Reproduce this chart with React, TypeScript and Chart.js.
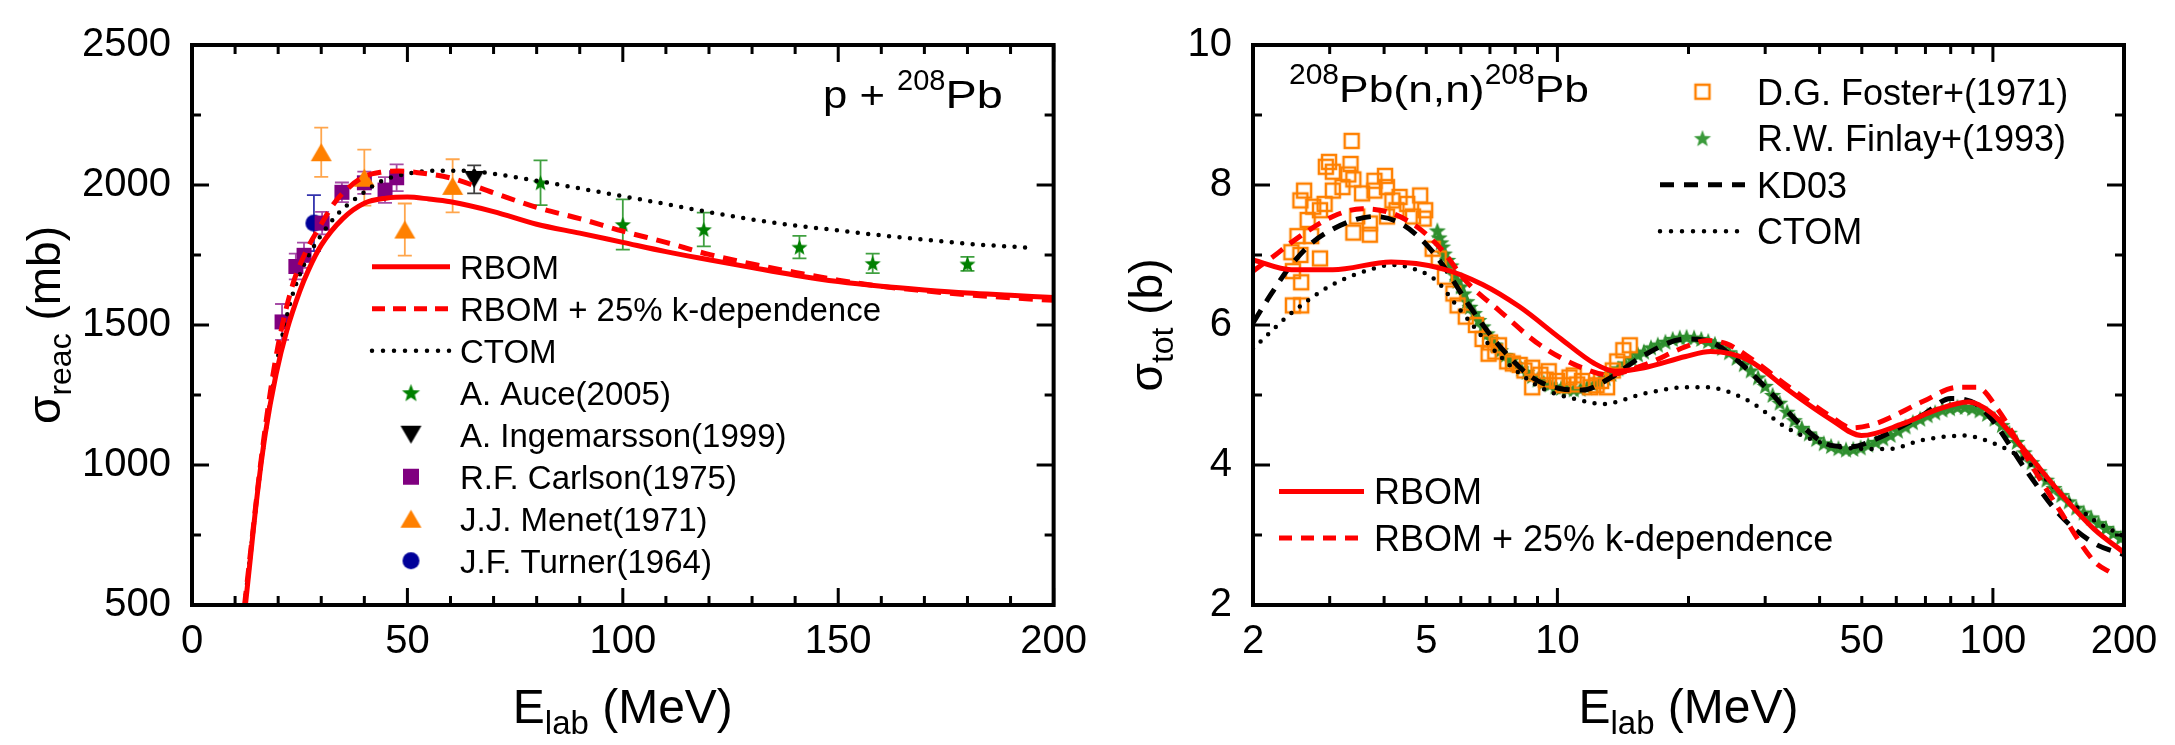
import React, { useEffect, useRef } from 'react';
import { Chart, registerables } from 'chart.js';

Chart.register(...registerables);

const FONT = "'Liberation Sans', Arial, Helvetica, sans-serif";
const H = 745;

// ---------------- Left panel: p + 208Pb, reaction cross section ----------------
const leftXTicks = [0, 50, 100, 150, 200];
const leftYTicks = [500, 1000, 1500, 2000, 2500];

const lRbomE = [12.4, 13.5, 15, 17, 19.5, 22, 25, 27, 30, 35, 40, 45, 50, 55, 60, 70, 80, 90, 100, 110, 120, 130, 140, 150, 160, 170, 180, 190, 200];
const lRbomS = [500, 660, 875, 1110, 1323, 1480, 1620, 1695, 1785, 1880, 1935, 1953, 1957, 1950, 1940, 1905, 1860, 1828, 1795, 1762, 1733, 1705, 1678, 1655, 1638, 1625, 1614, 1606, 1598];

const lKdepE = [12.2, 14, 15.5, 17.6, 19.9, 23.3, 26.4, 30, 33, 36.4, 40, 44, 48, 52, 60, 70, 80, 90, 100, 110, 120, 130, 140, 150, 160, 170, 180, 190, 200];
const lKdepS = [500, 745, 950, 1200, 1420, 1640, 1761, 1860, 1935, 1991, 2030, 2046, 2050, 2045, 2025, 1972, 1920, 1880, 1835, 1795, 1752, 1718, 1688, 1660, 1638, 1622, 1608, 1597, 1588];

const lCtomE = [12.2, 14, 16, 18, 20, 23, 26, 29.5, 34, 39.4, 44, 50, 56, 63, 70, 80, 90, 100, 110, 120, 130, 140, 150, 160, 170, 180, 190, 195];
const lCtomS = [500, 740, 1000, 1210, 1390, 1590, 1715, 1810, 1899, 1968, 2014, 2040, 2051, 2051, 2040, 2015, 1988, 1960, 1932, 1903, 1877, 1855, 1838, 1820, 1805, 1790, 1780, 1775];

const auceE = [80.9, 100, 118.8, 141, 158, 180];
const auceS = [2008, 1859, 1841, 1778, 1720, 1718];
const auceErr = [80, 90, 60, 40, 35, 25];

const ingeE = [65.5];
const ingeS = [2020];
const ingeErr = [50];

const carlE = [20.9, 24.1, 26, 30.2, 34.8, 40, 44.8, 47.5];
const carlS = [1511, 1709, 1749, 1864, 1974, 2008, 1982, 2026];
const carlErr = [64, 46, 45, 40, 35, 40, 46, 48];

const menetE = [30, 40, 49.4, 60.5];
const menetS = [2117, 2026, 1841, 1997];
const menetErr = [88, 100, 93, 95];

const turnE = [28.3];
const turnS = [1864];
const turnErr = [100];

// ---------------- Right panel: 208Pb(n,n), total cross section ----------------
const rightXTicks = [2, 5, 10, 50, 100, 200];
const rightYTicks = [2, 4, 6, 8, 10];

const rRbomE = [2.0, 2.45, 3.05, 4.15, 5.4, 6.73, 8.19, 10.2, 12.16, 13.57, 15.82, 19.7, 22.5, 27.4, 34.1, 42.5, 49.9, 62.1, 75, 88, 99.4, 119, 142.8, 171, 200];
const rRbomS = [6.93, 6.79, 6.79, 6.9, 6.81, 6.58, 6.26, 5.8, 5.45, 5.34, 5.39, 5.55, 5.62, 5.5, 5.06, 4.65, 4.42, 4.59, 4.8, 4.9, 4.74, 4.19, 3.6, 3.08, 2.75];

const rKdepE = [2.0, 2.25, 2.45, 3.05, 3.56, 4.15, 4.74, 5.4, 6.16, 7.34, 9.14, 11.39, 13.0, 15.82, 19.7, 22.0, 24.5, 27.4, 34.1, 42.5, 47.4, 53.7, 69.2, 82.9, 92, 103, 119, 142.8, 171, 187, 192];
const rKdepS = [6.77, 7.0, 7.18, 7.55, 7.66, 7.6, 7.41, 7.09, 6.63, 6.21, 5.71, 5.39, 5.29, 5.43, 5.69, 5.78, 5.73, 5.55, 5.11, 4.69, 4.53, 4.59, 4.91, 5.11, 5.11, 4.78, 4.13, 3.34, 2.62, 2.46, 2.42];

const kd03E = [2.0, 2.2, 2.45, 2.74, 3.05, 3.41, 3.8, 4.34, 4.95, 5.52, 6.3, 7.34, 8.75, 10.2, 11.39, 13.27, 15.82, 19.7, 22.0, 25.6, 30.6, 36.4, 42.5, 47.4, 52.9, 69.2, 80, 89, 99.4, 119, 142.8, 171, 200];
const kd03S = [6.03, 6.44, 6.86, 7.18, 7.37, 7.5, 7.55, 7.46, 7.18, 6.81, 6.26, 5.71, 5.25, 5.09, 5.07, 5.25, 5.57, 5.8, 5.78, 5.52, 5.06, 4.56, 4.28, 4.26, 4.35, 4.72, 4.95, 4.91, 4.65, 3.93, 3.28, 2.88, 2.72];

const rCtomE = [2.0, 2.45, 3.05, 3.8, 4.15, 4.74, 5.28, 5.9, 7.34, 9.14, 11.39, 12.7, 15.82, 19.7, 22.0, 27.4, 34.1, 42.5, 52.9, 57.7, 69.2, 86, 99.4, 119, 142.8, 171, 200];
const rCtomS = [5.66, 6.17, 6.58, 6.81, 6.86, 6.79, 6.63, 6.26, 5.57, 5.11, 4.92, 4.87, 5.02, 5.11, 5.11, 4.92, 4.51, 4.28, 4.23, 4.23, 4.36, 4.42, 4.32, 4.06, 3.6, 3.21, 2.98];

const fosterE = [3.37, 2.99, 3.05, 3.35, 2.94, 3.31, 3.4, 3.8, 4.02, 2.62, 2.57, 2.75, 2.92, 3.05, 3.21, 3.56, 3.8, 4.06, 4.18, 4.34, 4.52, 4.84, 4.66, 4.97, 4.93, 3.47, 3.71, 4.06, 4.27, 3.4, 3.71, 2.67, 2.85, 2.72, 2.53, 2.45, 2.85, 2.57, 2.47, 2.58, 2.47, 2.58, 5.17, 5.34, 5.52, 5.77, 5.9, 6.16, 6.5, 6.73, 6.95, 7.0, 7.2, 7.34, 7.67, 7.9, 8.19, 8.4, 8.75, 9.14, 8.75, 9.4, 9.55, 9.98, 10.3, 10.66, 10.9, 11.1, 11.39, 11.9, 12.3, 12.6, 13.0, 13.4, 13.72, 14.17, 14.66];
const fosterS = [8.63, 8.33, 8.19, 8.3, 8.26, 8.15, 8.08, 8.06, 8.13, 7.92, 7.78, 7.69, 7.73, 7.92, 7.97, 7.88, 7.92, 7.97, 7.78, 7.83, 7.73, 7.85, 7.55, 7.64, 7.52, 7.55, 7.45, 7.55, 7.64, 7.32, 7.29, 7.5, 7.64, 7.27, 7.27, 7.04, 6.95, 7.0, 6.77, 6.61, 6.28, 6.28, 7.09, 6.95, 6.69, 6.45, 6.28, 6.12, 6.0, 5.8, 5.59, 5.75, 5.62, 5.71, 5.48, 5.45, 5.43, 5.35, 5.39, 5.29, 5.11, 5.22, 5.34, 5.2, 5.14, 5.25, 5.28, 5.15, 5.2, 5.11, 5.14, 5.2, 5.11, 5.35, 5.48, 5.64, 5.71];

const finlayE = [5.3, 5.35, 5.4, 5.45, 5.5, 5.6, 5.7, 5.8, 5.9, 6.0, 6.1, 6.2, 6.3, 6.45, 6.6, 6.75, 6.9, 7.05, 7.2, 7.4, 7.6, 7.8, 8.0, 8.25, 8.5, 8.75, 9.0, 9.3, 9.6, 9.9, 10.2, 10.5, 10.9, 11.3, 11.7, 12.1, 12.5, 12.9, 13.3, 13.8, 14.3, 14.8, 15.3, 15.8, 16.4, 17.0, 17.7, 18.4, 19.1, 19.8, 20.6, 21.4, 22.2, 23.0, 23.9, 24.8, 25.8, 26.8, 27.8, 28.9, 30.0, 31.2, 32.4, 33.7, 35.0, 36.4, 37.8, 39.3, 40.9, 42.5, 44.2, 46.0, 47.8, 49.7, 51.7, 53.8, 56.0, 58.2, 60.5, 63.0, 65.5, 68.1, 70.8, 73.7, 76.6, 79.7, 82.9, 86.2, 89.6, 93.2, 97.0, 100.9, 104.9, 109.1, 113.5, 118.0, 122.8, 127.7, 132.8, 138.1, 143.6, 149.4, 155.4, 161.6, 168.1, 174.8, 181.8, 189.1, 196.7];
const finlayS = [7.35, 7.25, 7.18, 7.12, 7.02, 6.93, 6.85, 6.72, 6.63, 6.55, 6.45, 6.34, 6.26, 6.17, 6.07, 5.98, 5.88, 5.8, 5.72, 5.64, 5.57, 5.49, 5.44, 5.38, 5.33, 5.27, 5.22, 5.18, 5.15, 5.12, 5.1, 5.09, 5.08, 5.09, 5.11, 5.15, 5.19, 5.24, 5.3, 5.38, 5.45, 5.52, 5.58, 5.62, 5.68, 5.72, 5.76, 5.8, 5.82, 5.83, 5.82, 5.8, 5.77, 5.73, 5.67, 5.61, 5.53, 5.44, 5.35, 5.25, 5.13, 5.0, 4.89, 4.76, 4.64, 4.53, 4.45, 4.37, 4.31, 4.27, 4.24, 4.22, 4.23, 4.25, 4.29, 4.33, 4.38, 4.43, 4.49, 4.55, 4.61, 4.66, 4.71, 4.75, 4.79, 4.81, 4.83, 4.83, 4.81, 4.78, 4.73, 4.66, 4.57, 4.46, 4.33, 4.18, 4.04, 3.91, 3.79, 3.67, 3.57, 3.48, 3.39, 3.32, 3.25, 3.17, 3.1, 3.03, 2.96];

// ---------------- helpers ----------------
const pts = (xs: number[], ys: number[]) => xs.map((x, i) => ({ x, y: ys[i] }));

function makeMarker(kind: string, w: number, h: number, fill: string | null, stroke?: string, lw = 0): HTMLCanvasElement {
  const pad = 3;
  const c = document.createElement('canvas');
  c.width = Math.ceil(w + pad * 2);
  c.height = Math.ceil(h + pad * 2);
  const ctx = c.getContext('2d')!;
  const cx = c.width / 2, cy = c.height / 2;
  ctx.beginPath();
  if (kind === 'star') {
    const r = w / 2;
    for (let i = 0; i < 10; i++) {
      const a = -Math.PI / 2 + (i * Math.PI) / 5;
      const rr = i % 2 === 0 ? r : r * 0.42;
      ctx.lineTo(cx + rr * Math.cos(a), cy + 0.08 * r + rr * Math.sin(a));
    }
    ctx.closePath();
  } else if (kind === 'tri') {
    ctx.moveTo(cx, cy - h / 2);
    ctx.lineTo(cx + w / 2, cy + h / 2);
    ctx.lineTo(cx - w / 2, cy + h / 2);
    ctx.closePath();
  } else if (kind === 'dtri') {
    ctx.moveTo(cx, cy + h / 2);
    ctx.lineTo(cx + w / 2, cy - h / 2);
    ctx.lineTo(cx - w / 2, cy - h / 2);
    ctx.closePath();
  } else if (kind === 'square') {
    ctx.rect(cx - w / 2, cy - h / 2, w, h);
  } else {
    ctx.ellipse(cx, cy, w / 2, h / 2, 0, 0, Math.PI * 2);
  }
  if (fill) { ctx.fillStyle = fill; ctx.fill(); }
  if (stroke) { ctx.strokeStyle = stroke; ctx.lineWidth = lw; ctx.stroke(); }
  return c;
}

type Part = { t: string; size: number; dy?: number; sx?: number };

function richWidth(ctx: CanvasRenderingContext2D, parts: Part[]) {
  let w = 0;
  for (const p of parts) {
    ctx.font = `${p.size}px ${FONT}`;
    w += ctx.measureText(p.t).width * (p.sx ?? 1);
  }
  return w;
}

function drawRich(ctx: CanvasRenderingContext2D, parts: Part[], x: number, y: number) {
  let cx = x;
  ctx.textBaseline = 'alphabetic';
  ctx.textAlign = 'left';
  for (const p of parts) {
    ctx.font = `${p.size}px ${FONT}`;
    const sx = p.sx ?? 1;
    ctx.save();
    ctx.translate(cx, y + (p.dy ?? 0));
    ctx.scale(sx, 1);
    ctx.fillText(p.t, 0, 0);
    ctx.restore();
    cx += ctx.measureText(p.t).width * sx;
  }
}

type LegItem =
  | { kind: 'line'; color: string; width: number; dash: number[]; cap?: CanvasLineCap; label: string }
  | { kind: 'marker'; img: HTMLCanvasElement; label: string };

function drawLegend(ctx: CanvasRenderingContext2D, items: LegItem[], x0: number, x1: number, tx: number, y0: number, dy: number, size: number) {
  items.forEach((it, i) => {
    const y = y0 + i * dy;
    ctx.save();
    if (it.kind === 'line') {
      ctx.strokeStyle = it.color;
      ctx.lineWidth = it.width;
      ctx.lineCap = it.cap ?? 'butt';
      ctx.setLineDash(it.dash);
      ctx.beginPath();
      ctx.moveTo(x0, y);
      ctx.lineTo(x1, y);
      ctx.stroke();
    } else {
      const im = it.img;
      ctx.drawImage(im, (x0 + x1) / 2 - im.width / 2, y - im.height / 2);
    }
    ctx.restore();
    ctx.fillStyle = '#000';
    ctx.font = `${size}px ${FONT}`;
    ctx.textBaseline = 'alphabetic';
    ctx.textAlign = 'left';
    ctx.fillText(it.label, tx, y + 0.358 * size);
  });
}

const errorBarPlugin = {
  id: 'errbars',
  beforeDatasetsDraw(chart: any) {
    const { ctx } = chart;
    const xs = chart.scales.x, ys = chart.scales.y;
    chart.data.datasets.forEach((ds: any) => {
      if (!ds.errors) return;
      ctx.save();
      ctx.strokeStyle = ds.errColor;
      ctx.lineWidth = 1.8;
      ds.data.forEach((p: any, i: number) => {
        const e = ds.errors[i];
        const x = xs.getPixelForValue(p.x);
        const y1 = ys.getPixelForValue(p.y + e);
        const y2 = ys.getPixelForValue(p.y - e);
        ctx.beginPath();
        ctx.moveTo(x, y1); ctx.lineTo(x, y2);
        ctx.moveTo(x - 7, y1); ctx.lineTo(x + 7, y1);
        ctx.moveTo(x - 7, y2); ctx.lineTo(x + 7, y2);
        ctx.stroke();
      });
      ctx.restore();
    });
  },
};

function framePlugin(cfg: { xMajor: number[]; xMinor: number[]; yMajor: number[]; yMinor: number[]; extra: (ctx: CanvasRenderingContext2D, chart: any) => void }) {
  return {
    id: 'frame',
    afterDraw(chart: any) {
      const { ctx, chartArea: a } = chart;
      const xs = chart.scales.x, ys = chart.scales.y;
      ctx.save();
      ctx.strokeStyle = '#000';
      ctx.setLineDash([]);
      ctx.lineWidth = 3;
      const seg = (x1: number, y1: number, x2: number, y2: number) => {
        ctx.beginPath(); ctx.moveTo(x1, y1); ctx.lineTo(x2, y2); ctx.stroke();
      };
      const doX = (vals: number[], len: number) => vals.forEach((v) => {
        const p = xs.getPixelForValue(v);
        seg(p, a.bottom, p, a.bottom - len);
        seg(p, a.top, p, a.top + len);
      });
      const doY = (vals: number[], len: number) => vals.forEach((v) => {
        const p = ys.getPixelForValue(v);
        seg(a.left, p, a.left + len, p);
        seg(a.right, p, a.right - len, p);
      });
      doX(cfg.xMajor, 17); doX(cfg.xMinor, 9);
      doY(cfg.yMajor, 17); doY(cfg.yMinor, 9);
      ctx.lineWidth = 4;
      ctx.strokeRect(a.left, a.top, a.right - a.left, a.bottom - a.top);
      ctx.fillStyle = '#000';
      cfg.extra(ctx, chart);
      ctx.restore();
    },
  };
}

function axisTitles(ctx: CanvasRenderingContext2D, chart: any, yParts: Part[], yBase: number) {
  const a = chart.chartArea;
  const xParts: Part[] = [
    { t: 'E', size: 48 },
    { t: 'lab', size: 33, dy: 11 },
    { t: ' (MeV)', size: 48 },
  ];
  const w = richWidth(ctx, xParts);
  drawRich(ctx, xParts, (a.left + a.right) / 2 - w / 2, 723);
  const wy = richWidth(ctx, yParts);
  ctx.save();
  ctx.translate(yBase, (a.top + a.bottom) / 2);
  ctx.rotate(-Math.PI / 2);
  drawRich(ctx, yParts, -wy / 2, 0);
  ctx.restore();
}

const tickFont = { family: FONT, size: 40 };

function buildLeft(): any {
  const star = makeMarker('star', 17, 17, '#008000');
  const dtri = makeMarker('dtri', 20, 17, '#000000');
  const sq = makeMarker('square', 15, 15, '#800080');
  const tri = makeMarker('tri', 21, 18, '#ff8000');
  const circ = makeMarker('circle', 17, 17, '#000099');
  const lstar = makeMarker('star', 19, 19, '#008000');
  const ldtri = makeMarker('dtri', 21, 18, '#000000');
  const lsq = makeMarker('square', 16, 16, '#800080');
  const ltri = makeMarker('tri', 21, 18, '#ff8000');
  const lcirc = makeMarker('circle', 17, 17, '#000099');

  const minorX: number[] = [];
  for (let v = 10; v < 200; v += 10) if (v % 50 !== 0) minorX.push(v);
  const minorY = [750, 1250, 1750, 2250];

  return {
    type: 'scatter',
    data: {
      datasets: [
        { type: 'line', label: 'RBOM', data: pts(lRbomE, lRbomS), borderColor: '#ff0000', borderWidth: 5, pointRadius: 0, cubicInterpolationMode: 'monotone', order: 1 },
        { type: 'line', label: 'RBOM + 25% k-dependence', data: pts(lKdepE, lKdepS), borderColor: '#ff0000', borderWidth: 5, borderDash: [14, 9], pointRadius: 0, cubicInterpolationMode: 'monotone', order: 0 },
        { type: 'line', label: 'CTOM', data: pts(lCtomE, lCtomS), borderColor: '#000000', borderWidth: 4.5, borderDash: [0, 10.5], borderCapStyle: 'round', pointRadius: 0, cubicInterpolationMode: 'monotone', order: 2 },
        { label: 'A. Auce(2005)', data: pts(auceE, auceS), pointStyle: star, pointRadius: 6, errors: auceErr, errColor: 'rgba(0,128,0,0.75)', order: 10 },
        { label: 'A. Ingemarsson(1999)', data: pts(ingeE, ingeS), pointStyle: dtri, pointRadius: 6, errors: ingeErr, errColor: 'rgba(0,0,0,0.75)', order: 10 },
        { label: 'R.F. Carlson(1975)', data: pts(carlE, carlS), pointStyle: sq, pointRadius: 6, errors: carlErr, errColor: 'rgba(128,0,128,0.7)', order: 10 },
        { label: 'J.J. Menet(1971)', data: pts(menetE, menetS), pointStyle: tri, pointRadius: 6, errors: menetErr, errColor: 'rgba(255,128,0,0.7)', order: 9 },
        { label: 'J.F. Turner(1964)', data: pts(turnE, turnS), pointStyle: circ, pointRadius: 6, errors: turnErr, errColor: 'rgba(0,0,153,0.8)', order: 11 },
      ],
    },
    options: {
      responsive: false,
      animation: false,
      devicePixelRatio: 1,
      layout: { padding: { top: 26, right: 39, left: 0, bottom: 0 } },
      plugins: { legend: { display: false }, tooltip: { enabled: false } },
      scales: {
        x: {
          type: 'linear', min: 0, max: 200,
          afterFit: (s: any) => { s.height = H - 605; },
          afterBuildTicks: (s: any) => { s.ticks = leftXTicks.map((v) => ({ value: v })); },
          grid: { display: false, drawTicks: false }, border: { display: false },
          ticks: { font: tickFont, color: '#000', padding: 13, maxRotation: 0, autoSkip: false, callback: (v: any) => String(v) },
        },
        y: {
          type: 'linear', min: 500, max: 2500,
          afterFit: (s: any) => { s.width = 192; },
          afterBuildTicks: (s: any) => { s.ticks = leftYTicks.map((v) => ({ value: v })); },
          grid: { display: false, drawTicks: false }, border: { display: false },
          ticks: { font: tickFont, color: '#000', padding: 21, autoSkip: false, callback: (v: any) => String(v) },
        },
      },
    },
    plugins: [
      errorBarPlugin,
      framePlugin({
        xMajor: leftXTicks, xMinor: minorX, yMajor: leftYTicks, yMinor: minorY,
        extra: (ctx, chart) => {
          axisTitles(ctx, chart, [
            { t: 'σ', size: 46 },
            { t: 'reac', size: 32, dy: 11 },
            { t: ' (mb)', size: 46 },
          ], 60);
          drawRich(ctx, [
            { t: 'p + ', size: 39, sx: 1.12 },
            { t: '208', size: 29, dy: -18 },
            { t: 'Pb', size: 39, sx: 1.2 },
          ], 823, 108);
          drawLegend(ctx, [
            { kind: 'line', color: '#ff0000', width: 5, dash: [], label: 'RBOM' },
            { kind: 'line', color: '#ff0000', width: 5, dash: [13, 8], label: 'RBOM + 25% k-dependence' },
            { kind: 'line', color: '#000000', width: 4.5, dash: [0, 11], cap: 'round', label: 'CTOM' },
            { kind: 'marker', img: lstar, label: 'A. Auce(2005)' },
            { kind: 'marker', img: ldtri, label: 'A. Ingemarsson(1999)' },
            { kind: 'marker', img: lsq, label: 'R.F. Carlson(1975)' },
            { kind: 'marker', img: ltri, label: 'J.J. Menet(1971)' },
            { kind: 'marker', img: lcirc, label: 'J.F. Turner(1964)' },
          ], 372, 450, 460, 266.7, 42, 33);
        },
      }),
    ],
  };
}

function buildRight(): any {
  const fstar = makeMarker('star', 18, 18, '#2f8f2f');
  const osq = makeMarker('square', 14, 14, null, '#ff8000', 2.5);
  const lfstar = makeMarker('star', 18, 18, '#3a9a3a');
  const losq = makeMarker('square', 14, 14, null, '#ff8000', 2.5);

  const minorX = [3, 4, 6, 7, 8, 9, 20, 30, 40, 60, 70, 80, 90];
  const minorY = [3, 5, 7, 9];

  return {
    type: 'scatter',
    data: {
      datasets: [
        { type: 'line', label: 'RBOM', data: pts(rRbomE, rRbomS), borderColor: '#ff0000', borderWidth: 5, pointRadius: 0, cubicInterpolationMode: 'monotone', order: 2 },
        { type: 'line', label: 'RBOM + 25% k-dependence', data: pts(rKdepE, rKdepS), borderColor: '#ff0000', borderWidth: 5, borderDash: [14, 9], pointRadius: 0, cubicInterpolationMode: 'monotone', order: 1 },
        { type: 'line', label: 'KD03', data: pts(kd03E, kd03S), borderColor: '#000000', borderWidth: 5, borderDash: [15, 10], pointRadius: 0, cubicInterpolationMode: 'monotone', order: 3 },
        { type: 'line', label: 'CTOM', data: pts(rCtomE, rCtomS), borderColor: '#000000', borderWidth: 4.5, borderDash: [0, 10.5], borderCapStyle: 'round', pointRadius: 0, cubicInterpolationMode: 'monotone', order: 4 },
        { label: 'D.G. Foster+(1971)', data: pts(fosterE, fosterS), pointStyle: osq, pointRadius: 6, order: 9 },
        { label: 'R.W. Finlay+(1993)', data: pts(finlayE, finlayS), pointStyle: fstar, pointRadius: 6, order: 10 },
      ],
    },
    options: {
      responsive: false,
      animation: false,
      devicePixelRatio: 1,
      layout: { padding: { top: 26, right: 51, left: 0, bottom: 0 } },
      plugins: { legend: { display: false }, tooltip: { enabled: false } },
      scales: {
        x: {
          type: 'logarithmic', min: 2, max: 200,
          afterFit: (s: any) => { s.height = H - 605; },
          afterBuildTicks: (s: any) => { s.ticks = rightXTicks.map((v) => ({ value: v })); },
          grid: { display: false, drawTicks: false }, border: { display: false },
          ticks: { font: tickFont, color: '#000', padding: 13, maxRotation: 0, autoSkip: false, callback: (v: any) => String(v) },
        },
        y: {
          type: 'linear', min: 2, max: 10,
          afterFit: (s: any) => { s.width = 153; },
          afterBuildTicks: (s: any) => { s.ticks = rightYTicks.map((v) => ({ value: v })); },
          grid: { display: false, drawTicks: false }, border: { display: false },
          ticks: { font: tickFont, color: '#000', padding: 21, autoSkip: false, callback: (v: any) => String(v) },
        },
      },
    },
    plugins: [
      framePlugin({
        xMajor: [10, 100], xMinor: minorX.concat([5, 50]), yMajor: rightYTicks, yMinor: minorY,
        extra: (ctx, chart) => {
          axisTitles(ctx, chart, [
            { t: 'σ', size: 46 },
            { t: 'tot', size: 32, dy: 11 },
            { t: ' (b)', size: 46 },
          ], 62);
          drawRich(ctx, [
            { t: '208', size: 30, dy: -18 },
            { t: 'Pb(n,n)', size: 37, sx: 1.2 },
            { t: '208', size: 30, dy: -18 },
            { t: 'Pb', size: 37, sx: 1.2 },
          ], 189, 102);
          drawLegend(ctx, [
            { kind: 'marker', img: losq, label: 'D.G. Foster+(1971)' },
            { kind: 'marker', img: lfstar, label: 'R.W. Finlay+(1993)' },
            { kind: 'line', color: '#000000', width: 5, dash: [14, 10], label: 'KD03' },
            { kind: 'line', color: '#000000', width: 4.5, dash: [0, 11], cap: 'round', label: 'CTOM' },
          ], 560, 645, 657, 91.7, 46.5, 36);
          drawLegend(ctx, [
            { kind: 'line', color: '#ff0000', width: 5, dash: [], label: 'RBOM' },
            { kind: 'line', color: '#ff0000', width: 5, dash: [13, 9], label: 'RBOM + 25% k-dependence' },
          ], 179, 264, 274, 491.5, 46.5, 36);
        },
      }),
    ],
  };
}

function Panel({ left, width, build }: { left: number; width: number; build: () => any }) {
  const ref = useRef<HTMLCanvasElement>(null);
  useEffect(() => {
    const chart = new Chart(ref.current as HTMLCanvasElement, build());
    return () => chart.destroy();
  }, []);
  return (
    <canvas
      ref={ref}
      width={width}
      height={H}
      style={{ position: 'absolute', left, top: 0, width, height: H, display: 'block' }}
    />
  );
}

export default function App() {
  return (
    <div style={{ position: 'fixed', left: 0, top: 0, width: 2175, height: H, background: '#fff', overflow: 'hidden' }}>
      <Panel left={0} width={1100} build={buildLeft} />
      <Panel left={1100} width={1075} build={buildRight} />
    </div>
  );
}
